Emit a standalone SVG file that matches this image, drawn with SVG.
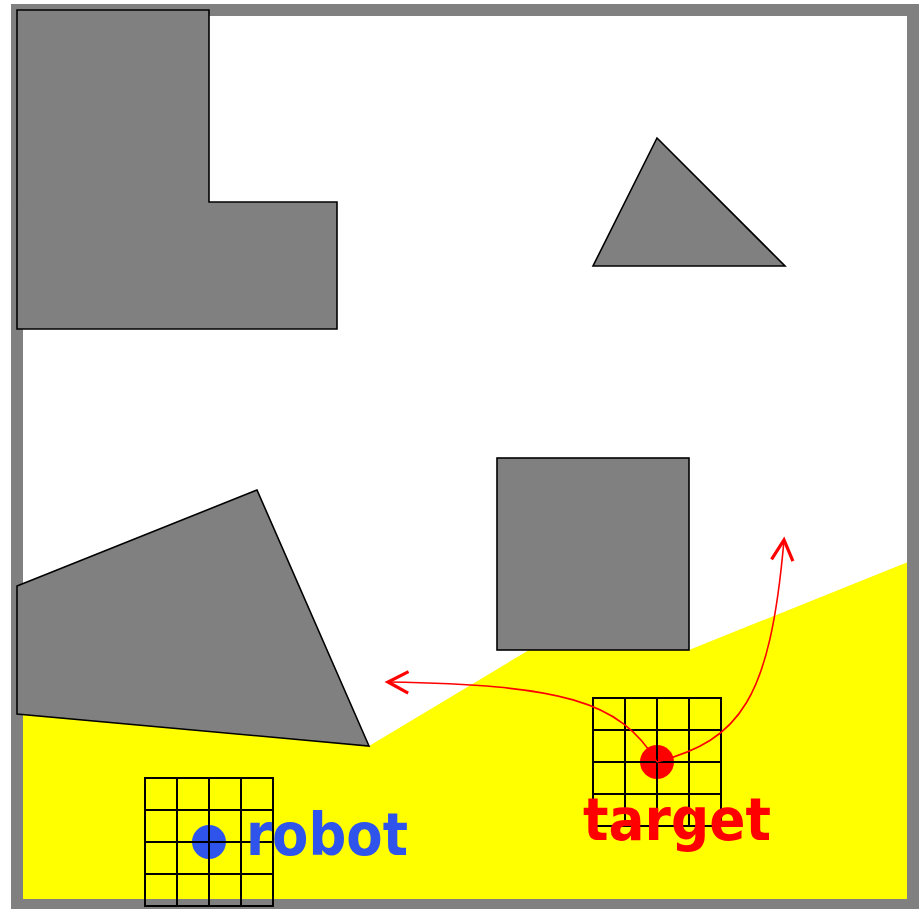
<svg xmlns="http://www.w3.org/2000/svg" width="920" height="909" viewBox="0 0 920 909">
<style>
.obs{fill:#808080;stroke:#000;stroke-width:1.6;stroke-linejoin:miter}
.grid{fill:none;stroke:#000;stroke-width:2}
.path{fill:none;stroke:#ff0000;stroke-width:1.6}
.lbl{font-family:"Comic Sans MS","DejaVu Sans",sans-serif;font-size:58px;font-weight:bold}
</style>
<defs>
<marker id="chev" markerUnits="userSpaceOnUse" markerWidth="30" markerHeight="30" refX="0" refY="0" viewBox="-24 -14 28 28" orient="auto">
<path d="M-19,-10 L0,0 L-19,10" fill="none" stroke="#ff0000" stroke-width="3"/>
</marker>
</defs>
<rect width="920" height="909" fill="#fff"/>
<g id="visible-region">
<polygon points="17,714 369,746 529,650 689,650 913,560 913,905 17,905" fill="#ffff00"/>
</g>
<g id="frame">
<rect x="17" y="10" width="896" height="895" fill="none" stroke="#808080" stroke-width="12"/>
</g>
<g id="obstacle-L"><polygon class="obs" points="17,10 209,10 209,202 337,202 337,329 17,329"/></g>
<g id="obstacle-triangle"><polygon class="obs" points="657,138 785,266 593,266"/></g>
<g id="obstacle-square"><rect class="obs" x="497" y="458" width="192" height="192"/></g>
<g id="obstacle-quad"><polygon class="obs" points="17,586 257,490 369,746 17,714"/></g>
<g id="robot">
<circle cx="209" cy="842" r="17" fill="#2f54eb"/>
<path class="grid" d="M145,778H273V906H145Z M177,778V906 M209,778V906 M241,778V906 M145,810H273 M145,842H273 M145,874H273"/>
<text class="lbl" x="246" y="855" fill="#2f54eb" textLength="162" lengthAdjust="spacingAndGlyphs">robot</text>
</g>
<g id="target">
<circle cx="657" cy="762" r="17" fill="#ff0000"/>
<path class="grid" d="M593,698H721V826H593Z M625,698V826 M657,698V826 M689,698V826 M593,730H721 M593,762H721 M593,794H721"/>
<text class="lbl" x="583" y="840" fill="#ff0000" textLength="188" lengthAdjust="spacingAndGlyphs">target</text>
</g>
<g id="connectors">
<path class="path" d="M657,762 C620,700 560,685 388,682" marker-end="url(#chev)"/>
<path class="path" d="M657,762 C740,740 770,700 784,540" marker-end="url(#chev)"/>
</g>
</svg>
